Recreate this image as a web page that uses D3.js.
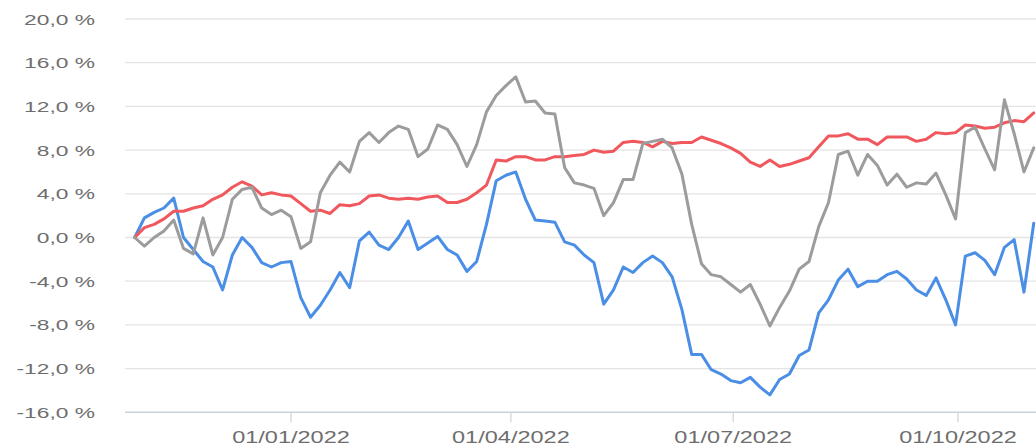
<!DOCTYPE html>
<html><head><meta charset="utf-8">
<script src="https://cdn.jsdelivr.net/npm/d3@7"></script>
<style>body{margin:0;background:#fff;} svg{display:block;}</style>
</head><body><svg id="c" width="1036" height="446"></svg>
<script>
const dates = ["2021-10-29","2021-11-02","2021-11-06","2021-11-10","2021-11-14","2021-11-18","2021-11-22","2021-11-26","2021-11-30","2021-12-04",
"2021-12-08","2021-12-12","2021-12-16","2021-12-20","2021-12-24","2021-12-28","2022-01-01","2022-01-05","2022-01-09","2022-01-13",
"2022-01-17","2022-01-21","2022-01-25","2022-01-29","2022-02-02","2022-02-06","2022-02-10","2022-02-14","2022-02-18","2022-02-22",
"2022-02-26","2022-03-02","2022-03-06","2022-03-10","2022-03-14","2022-03-18","2022-03-22","2022-03-26","2022-03-30","2022-04-03",
"2022-04-07","2022-04-11","2022-04-15","2022-04-19","2022-04-23","2022-04-27","2022-05-01","2022-05-05","2022-05-09","2022-05-13",
"2022-05-17","2022-05-21","2022-05-25","2022-05-29","2022-06-02","2022-06-06","2022-06-10","2022-06-14","2022-06-18","2022-06-22",
"2022-06-26","2022-06-30","2022-07-04","2022-07-08","2022-07-12","2022-07-16","2022-07-20","2022-07-24","2022-07-28","2022-08-01",
"2022-08-05","2022-08-09","2022-08-13","2022-08-17","2022-08-21","2022-08-25","2022-08-29","2022-09-02","2022-09-06","2022-09-10",
"2022-09-14","2022-09-18","2022-09-22","2022-09-26","2022-09-30","2022-10-04","2022-10-08","2022-10-12","2022-10-16","2022-10-20",
"2022-10-24","2022-10-28","2022-11-01"];

const blueSeries = [0.0,1.8,2.3,2.7,3.6,0.0,-1.1,-2.2,-2.7,-4.8,
-1.6,0.0,-0.9,-2.3,-2.7,-2.3,-2.2,-5.5,-7.3,-6.2,
-4.8,-3.2,-4.6,-0.3,0.5,-0.7,-1.1,0.0,1.5,-1.1,
-0.5,0.1,-1.1,-1.6,-3.1,-2.2,1.2,5.2,5.7,6.0,
3.5,1.6,1.5,1.4,-0.4,-0.7,-1.6,-2.3,-6.1,-4.8,
-2.7,-3.2,-2.3,-1.7,-2.3,-3.6,-6.6,-10.7,-10.7,-12.1,
-12.5,-13.1,-13.3,-12.8,-13.7,-14.4,-13.0,-12.5,-10.8,-10.3,
-6.9,-5.7,-3.9,-2.9,-4.5,-4.0,-4.0,-3.4,-3.1,-3.8,
-4.8,-5.3,-3.7,-5.7,-8.0,-1.7,-1.4,-2.1,-3.4,-0.9,
-0.2,-5.0,1.3];

const graySeries = [0.0,-0.8,0.0,0.6,1.6,-1.0,-1.5,1.8,-1.6,0.0,
3.5,4.4,4.6,2.7,2.1,2.5,1.9,-1.0,-0.4,4.1,
5.7,6.9,6.0,8.8,9.6,8.7,9.6,10.2,9.9,7.4,
8.1,10.3,9.9,8.5,6.5,8.5,11.5,13.0,13.9,14.7,
12.4,12.5,11.4,11.3,6.4,5.0,4.8,4.5,2.0,3.2,
5.3,5.3,8.6,8.8,9.0,8.2,5.8,1.2,-2.4,-3.4,
-3.6,-4.3,-5.0,-4.3,-6.1,-8.1,-6.4,-4.9,-2.9,-2.2,
1.0,3.2,7.6,7.9,5.7,7.6,6.6,4.8,5.8,4.6,
5.0,4.9,5.9,3.9,1.7,9.6,10.1,8.1,6.2,12.6,
9.5,6.0,8.2];

const redSeries = [0.0,0.9,1.2,1.7,2.4,2.4,2.7,2.9,3.5,3.9,
4.6,5.1,4.7,3.9,4.1,3.9,3.8,3.1,2.4,2.5,
2.2,3.0,2.9,3.1,3.8,3.9,3.6,3.5,3.6,3.5,
3.7,3.8,3.2,3.2,3.5,4.1,4.8,7.1,7.0,7.4,
7.4,7.1,7.1,7.4,7.4,7.5,7.6,8.0,7.8,7.9,
8.7,8.8,8.7,8.3,8.8,8.6,8.7,8.7,9.2,8.9,
8.6,8.2,7.7,6.9,6.5,7.1,6.5,6.7,7.0,7.3,
8.3,9.3,9.3,9.5,9.0,9.0,8.5,9.2,9.2,9.2,
8.8,9.0,9.6,9.5,9.6,10.3,10.2,10.0,10.1,10.5,
10.7,10.6,11.4];

const yTicks = [20,16,12,8,4,0,-4,-8,-12,-16];
const xTickDates = ["2022-01-01","2022-04-01","2022-07-01","2022-10-01"];
const xTickLabels = ["01/01/2022","01/04/2022","01/07/2022","01/10/2022"];

const seriesList = [
  {name:"blue", values: blueSeries, color:"#4a8ee6"},
  {name:"red", values: redSeries, color:"#f0585e"},
  {name:"gray", values: graySeries, color:"#9c9c9c"}
];

const parse = d3.timeParse("%Y-%m-%d");
const svg = d3.select("#c");
const W = 1036;
const left = 125, right = W;
const x = d3.scaleTime().domain([parse("2022-01-01"), parse("2022-10-01")]).range([291, 958]);
const y = d3.scaleLinear().domain([-16, 20]).range([412.3, 19]);

const loc = d3.formatLocale({decimal:",", thousands:".", grouping:[3], currency:["","€"], minus:"-"});
const fmt = v => loc.format(".1f")(v) + " %";
const SX = 1.47;

// gridlines
svg.append("g").selectAll("line").data(yTicks.filter(t => t !== -16)).join("line")
  .attr("x1", left).attr("x2", right)
  .attr("y1", d => y(d)).attr("y2", d => y(d))
  .attr("stroke", "#e4e4e4").attr("stroke-width", 1.3);

// y labels
svg.append("g").selectAll("text").data(yTicks).join("text")
  .attr("transform", d => `translate(95,${y(d)}) scale(${SX},1)`)
  .attr("text-anchor", "end").attr("dy", "0.36em")
  .attr("font-family", "Liberation Sans, Arial, sans-serif")
  .attr("font-size", 15.5).attr("fill", "#6e6e6e")
  .text(d => fmt(d));

// x axis line
svg.append("line").attr("x1", left).attr("x2", right)
  .attr("y1", y(-16)).attr("y2", y(-16))
  .attr("stroke", "#ccd2dc").attr("stroke-width", 1.5);

// x ticks
const xt = svg.append("g").selectAll("g").data(xTickDates.map((d,i) => ({d: parse(d), label: xTickLabels[i]}))).join("g");
xt.append("line").attr("x1", d => x(d.d)).attr("x2", d => x(d.d))
  .attr("y1", y(-16)).attr("y2", y(-16) + 10)
  .attr("stroke", "#ccd2dc").attr("stroke-width", 1.2);
xt.append("text")
  .attr("transform", d => `translate(${x(d.d)},443) scale(${SX},1)`)
  .attr("text-anchor", "middle")
  .attr("font-family", "Liberation Sans, Arial, sans-serif")
  .attr("font-size", 16).attr("fill", "#6e6e6e")
  .text(d => d.label);

// lines
const line = d3.line().x(d => x(d.date)).y(d => y(d.v));
seriesList.forEach(s => {
  const pts = dates.map((d, i) => ({date: parse(d), v: s.values[i]}));
  svg.append("path").datum(pts)
    .attr("fill", "none").attr("stroke", s.color)
    .attr("stroke-width", 3).attr("stroke-linejoin", "round").attr("stroke-linecap", "round")
    .attr("d", line);
});
</script></body></html>
